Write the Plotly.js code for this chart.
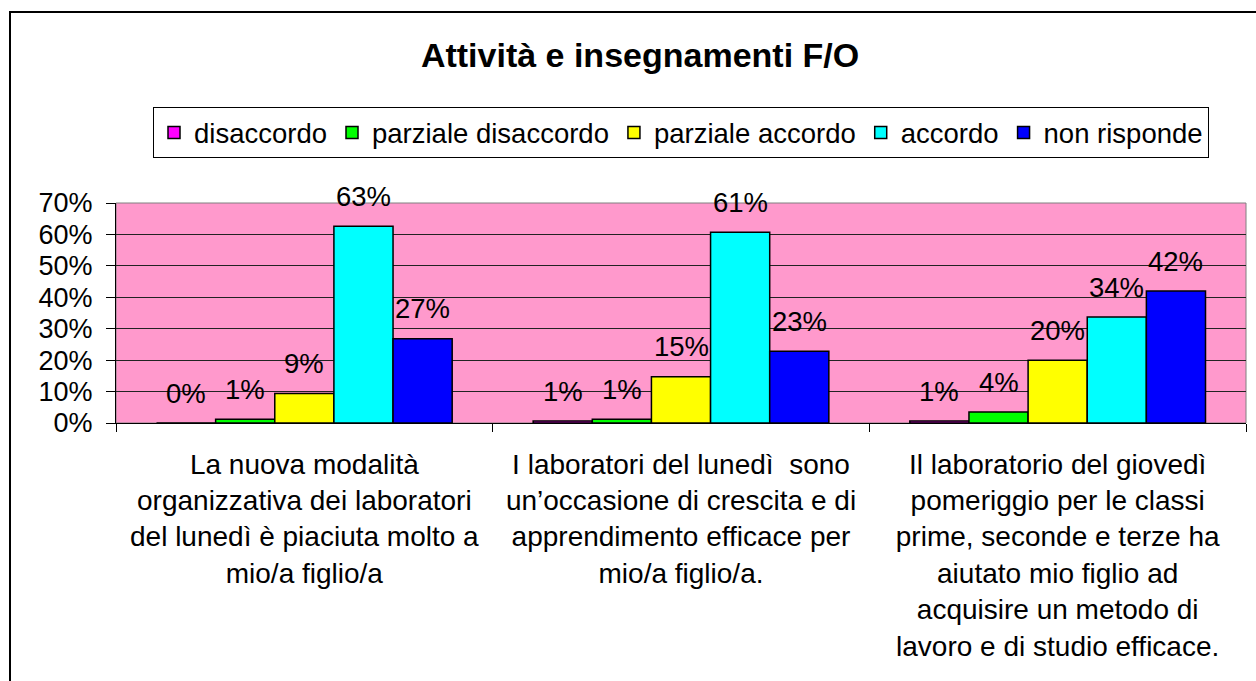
<!DOCTYPE html>
<html>
<head>
<meta charset="utf-8">
<script src="https://cdn.plot.ly/plotly-3.0.1.min.js"></script>
<style>
  body { margin: 0; background: #fff; }
  #chart { width: 1256px; height: 681px; }
</style>
</head>
<body>
<div id="chart"></div>
<script>
// categories (questions), one label line per entry
var categories = [
  'La nuova modalità<br>organizzativa dei laboratori<br>del lunedì è piaciuta molto a<br>mio/a figlio/a',
  'I laboratori del lunedì  sono<br>un’occasione di crescita e di<br>apprendimento efficace per<br>mio/a figlio/a.',
  'Il laboratorio del giovedì<br>pomeriggio per le classi<br>prime, seconde e terze ha<br>aiutato mio figlio ad<br>acquisire un metodo di<br>lavoro e di studio efficace.'
];
var seriesNames = ['disaccordo', 'parziale disaccordo', 'parziale accordo', 'accordo', 'non risponde'];
var seriesColors = ['#FF00FF', '#00FF00', '#FFFF00', '#00FFFF', '#0000FF'];

// values (share of answers)
var disaccordo = [0, 0.006, 0.006];
var parzialeDisaccordo = [0.012, 0.012, 0.035];
var parzialeAccordo = [0.094, 0.147, 0.2];
var accordo = [0.626, 0.607, 0.337];
var nonRisponde = [0.268, 0.228, 0.42];
var seriesValues = [disaccordo, parzialeDisaccordo, parzialeAccordo, accordo, nonRisponde];

var yTicks = [0, 0.1, 0.2, 0.3, 0.4, 0.5, 0.6, 0.7];

var font = 'Liberation Sans, Arial, sans-serif';
var bargap = 0.215;
var barWidth = (1 - bargap) / seriesNames.length;

var traces = seriesNames.map(function(name, i) {
  return {
    type: 'bar',
    name: name,
    x: categories,
    y: seriesValues[i],
    marker: { color: seriesColors[i], line: { color: '#000', width: 1.5 } },
    hoverinfo: 'skip'
  };
});

// data labels floating above each bar
var annotations = [];
seriesValues.forEach(function(vals, i) {
  vals.forEach(function(v, c) {
    annotations.push({
      x: c + (i - (seriesNames.length - 1) / 2) * barWidth,
      y: v,
      xref: 'x', yref: 'y',
      text: Math.round(v * 100) + '%',
      showarrow: false,
      yanchor: 'middle',
      yshift: 30,
      font: { family: font, size: 27.5, color: '#000' }
    });
  });
});

var layout = {
  width: 1256,
  height: 681,
  margin: { l: 116, r: 10, t: 203, b: 258 },
  paper_bgcolor: '#fff',
  plot_bgcolor: '#FF99CC',
  barmode: 'group',
  bargap: bargap,
  bargroupgap: 0,
  showlegend: true,
  font: { family: font, size: 27, color: '#000' },
  title: {
    text: '<b>Attività e insegnamenti F/O</b>',
    x: 0.5096, xref: 'container', xanchor: 'center',
    y: 1 - 55 / 681, yref: 'container', yanchor: 'middle',
    font: { family: font, size: 34, color: '#000' }
  },
  legend: {
    orientation: 'h',
    x: 0.5, xanchor: 'center',
    y: 1.436, yanchor: 'top',
    bordercolor: '#000', borderwidth: 1,
    bgcolor: '#fff',
    font: { family: font, size: 27.5, color: '#000' },
    itemwidth: 30,
    traceorder: 'normal'
  },
  xaxis: {
    type: 'category',
    showline: true, linecolor: '#000', linewidth: 1,
    ticks: 'outside', tickson: 'boundaries', ticklen: 8, tickcolor: '#000',
    tickangle: 0,
    ticklabelstandoff: 16,
    tickfont: { family: font, size: 28, color: '#000' },
    showgrid: false, zeroline: false
  },
  yaxis: {
    range: [0, 0.7],
    tickvals: yTicks,
    tickformat: '.0%',
    showline: true, linecolor: '#000', linewidth: 1,
    ticks: 'outside', ticklen: 9, tickcolor: '#000',
    ticklabelstandoff: 8,
    tickfont: { family: font, size: 27, color: '#000' },
    showgrid: true, gridcolor: '#222', gridwidth: 1,
    zeroline: false
  },
  shapes: [
    // gray plot area border (top/right)
    { type: 'rect', xref: 'paper', yref: 'paper', x0: 0, x1: 1, y0: 0, y1: 1,
      line: { color: '#808080', width: 1 }, layer: 'below' },
    // outer chart frame
    { type: 'rect', xref: 'paper', yref: 'paper',
      x0: (10 - 116) / 1130, x1: (1275 - 116) / 1130,
      y0: (423 - 700) / 220, y1: (423 - 12) / 220,
      line: { color: '#000', width: 2 } }
  ],
  annotations: annotations
};

Plotly.newPlot('chart', traces, layout, { staticPlot: true });
</script>
</body>
</html>
